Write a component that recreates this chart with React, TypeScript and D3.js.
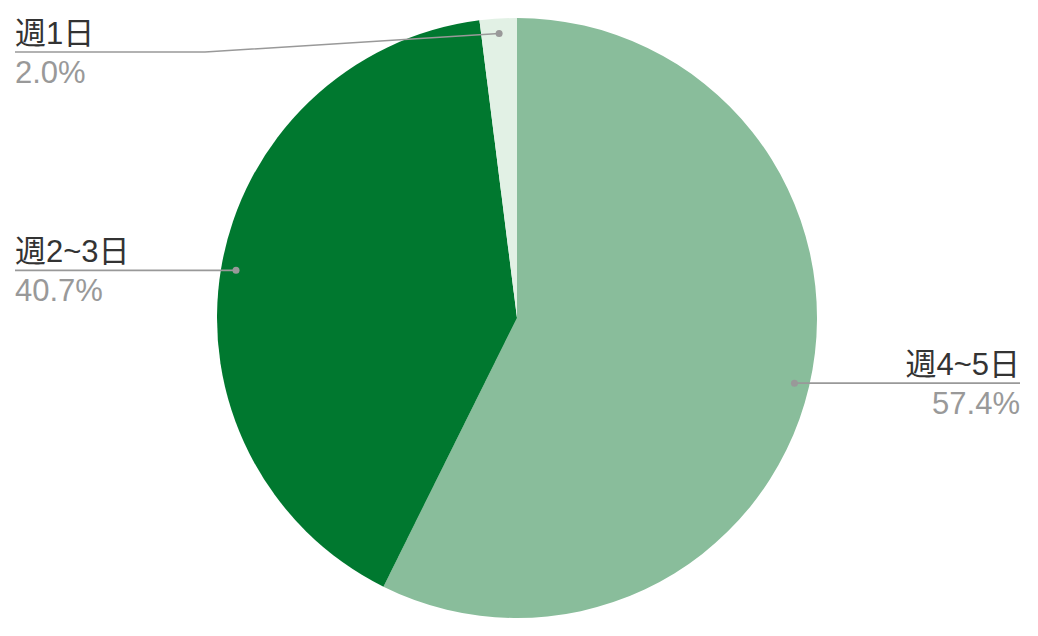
import * as d3 from "d3";

const categories = ["週4~5日", "週2~3日", "週1日"];
const shares = [57.4, 40.7, 2.0];
const colors = ["#89bd9b", "#00782f", "#e2f1e5"];

const width = 1038;
const height = 636;
const cx = 517;
const cy = 318;
const radius = 300;

export default function App() {
    const pie = d3.pie<number>().sort(null).value((d) => d);
    const arcs = pie(shares);
    const arc = d3.arc<d3.PieArcDatum<number>>().innerRadius(0).outerRadius(radius);
    const dotArc = d3.arc<d3.PieArcDatum<number>>().innerRadius(radius * 0.95).outerRadius(radius * 0.95);
    const font = "Arial, 'Liberation Sans', 'Noto Sans CJK JP', sans-serif";

    return (
        <svg width={width} height={height} style={{ position: "absolute", left: 0, top: 0, background: "#fff" }}>
            <g transform={`translate(${cx},${cy})`}>
                {arcs.map((a, i) => (
                    <path key={i} d={arc(a) as string} fill={colors[i]} />
                ))}
            </g>
            {arcs.map((a, i) => {
                const [dx, dy] = dotArc.centroid(a);
                const px = cx + dx;
                const py = cy + dy;
                const right = px > cx;
                const ly = Math.max(py, 52);
                const tx = right ? 1020 : 15;
                const anchor = right ? "end" : "start";
                const points = right
                    ? [[px, py], [tx, ly]]
                    : ly !== py
                        ? [[px, py], [205, ly], [tx, ly]]
                        : [[px, py], [tx, ly]];
                return (
                    <g key={i}>
                        <path d={d3.line()(points as [number, number][]) as string} fill="none" stroke="#999" strokeWidth={1.6} />
                        <circle cx={px} cy={py} r={3.5} fill="#999" />
                        <text x={tx} y={ly - 8} textAnchor={anchor} fontFamily={font} fontSize={31} fill="#333">
                            {categories[i]}
                        </text>
                        <text x={tx} y={ly + 31} textAnchor={anchor} fontFamily={font} fontSize={31} fill="#999">
                            {shares[i].toFixed(1)}%
                        </text>
                    </g>
                );
            })}
        </svg>
    );
}
